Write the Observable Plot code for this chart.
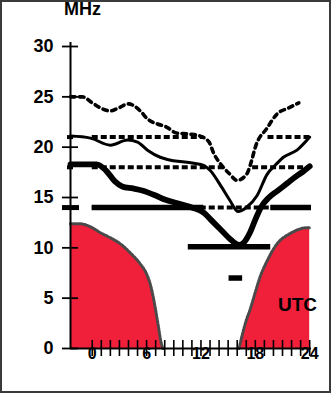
<!DOCTYPE html>
<html><head><meta charset="utf-8">
<script src="https://cdn.jsdelivr.net/npm/d3@7"></script>
<script src="https://cdn.jsdelivr.net/npm/@observablehq/plot@0.6"></script>
<style>
html,body{margin:0;padding:0;background:#fff;}
#chart{position:relative;width:332px;height:395px;}
#frame{position:absolute;left:0;top:0;width:331px;height:393px;border:2px solid #3a3a3a;box-sizing:border-box;pointer-events:none;}
</style></head><body>
<div id="chart"><div id="frame"></div></div>
<script>
// axis domain
const axisStart = -2.4;
const axisEnd = 24.2;
const yTicks = [0, 5, 10, 15, 20, 25, 30];
const hourTicks = [0,1,2,3,4,5,6,7,8,9,10,11,12,13,14,15,16,17,18,19,20,21,22,23,24];
const hourLabels = [0, 6, 12, 18, 24];

// [hour UTC, MHz]
const upperDecile = [[-2.4,25.0],[-1.1,25.0],[0,24.4],[0.9,23.9],[2.0,23.6],[2.9,23.9],[4.0,24.3],[5.3,23.6],[6.1,22.8],[7.2,22.3],[8.2,22.0],[9.3,21.4],[10.8,21.3],[11.9,21.1],[12.9,20.5],[13.4,19.4],[14.1,18.4],[15.1,17.4],[16.0,16.7],[17.1,17.4],[17.6,18.7],[18.0,20.0],[19.3,21.9],[20.4,23.3],[21.7,23.9],[22.8,24.4]];
const median = [[-2.4,21.1],[-0.2,20.9],[2.0,20.2],[3.9,20.7],[5.0,20.5],[6.1,19.7],[7.5,19.0],[8.2,18.8],[11.2,18.4],[12.3,18.2],[13.0,17.7],[14.3,16.0],[15.2,14.7],[16.1,13.6],[17.0,14.0],[18.2,15.2],[19.3,17.3],[20.3,18.3],[21.1,19.0],[22.6,19.7],[24.0,21.0]];
const lowerDecile = [[-2.4,18.3],[0.5,18.3],[1.5,17.7],[2.5,16.6],[3.3,16.1],[4.5,15.9],[5.5,15.7],[7.0,15.2],[8.0,14.8],[9.5,14.4],[11.0,14.0],[12.3,13.5],[13.3,12.6],[14.3,11.7],[15.3,10.8],[16.2,10.3],[16.7,10.5],[17.4,11.5],[18.0,12.8],[18.6,14.0],[19.5,15.0],[20.5,15.7],[21.5,16.4],[22.5,17.1],[23.3,17.6],[24.0,18.1]];
const lufMorning = [[-2.4,12.4],[-1.5,12.4],[0,12.0],[0.9,11.5],[2.0,11.0],[3.1,10.4],[4.2,9.5],[5.3,8.4],[6.0,7.4],[6.4,6.4],[6.8,4.8],[7.0,3.8],[7.3,2.2],[7.55,0.8],[7.8,0]];
const lufEvening = [[16.2,0],[16.6,1.5],[17.0,2.8],[17.4,3.8],[18.0,5.6],[18.5,7.05],[19.3,8.7],[20.4,10.4],[21.8,11.4],[22.7,11.8],[23.7,12.0],[24.0,12.0]];

// bands: dashed = open on upper decile, thick = open on lower decile
const dashedBands = [{mhz:21,from:0,to:12.3},{mhz:21,from:19.4,to:24},{mhz:18,from:0,to:14.5},{mhz:18,from:17.7,to:24},{mhz:14,from:0,to:24}];
const thickBands = [{mhz:14,from:0,to:12.3},{mhz:14,from:19.7,to:24.2},{mhz:10.1,from:10.6,to:19.7},{mhz:7,from:15.1,to:16.6}];
const bandMarks = [21, 18];
const mainBand = [14];

const hx = d => d[0], my = d => d[1];
const red = "#f0203b";

const chart = Plot.plot({
  width: 332, height: 395,
  marginLeft: 70, marginRight: 21, marginTop: 46, marginBottom: 47,
  x: {domain: [axisStart, axisEnd], axis: null},
  y: {domain: [0, 30], axis: null},
  style: {fontFamily: "'Liberation Sans', Arial, sans-serif", background: "transparent", color: "black"},
  marks: [
    Plot.areaY(lufMorning, {x: hx, y: my, fill: red, curve: "monotone-x"}),
    Plot.areaY(lufEvening, {x: hx, y: my, fill: red, curve: "monotone-x"}),
    Plot.line(lufMorning, {x: hx, y: my, stroke: "#4a4a4a", strokeWidth: 3, strokeDasharray: "2,1.5", curve: "monotone-x"}),
    Plot.line(lufEvening, {x: hx, y: my, stroke: "#4a4a4a", strokeWidth: 3, strokeDasharray: "2,1.5", curve: "monotone-x"}),
    Plot.ruleY(dashedBands, {y: "mhz", x1: "from", x2: "to", stroke: "black", strokeWidth: 4, strokeDasharray: "6,3"}),
    Plot.ruleY(thickBands, {y: "mhz", x1: "from", x2: "to", stroke: "black", strokeWidth: 5.5}),
    Plot.line(upperDecile, {x: hx, y: my, stroke: "black", strokeWidth: 3.6, strokeDasharray: "4.5,4.5", curve: "monotone-x"}),
    Plot.line(median, {x: hx, y: my, stroke: "black", strokeWidth: 3, curve: "monotone-x"}),
    Plot.line(lowerDecile, {x: hx, y: my, stroke: "black", strokeWidth: 5.8, curve: "monotone-x"}),
    // axes
    Plot.ruleX([axisStart], {y1: 30, y2: 0, insetTop: -4, stroke: "black", strokeWidth: 2}),
    Plot.ruleY([0], {x1: axisStart, x2: axisEnd, stroke: "black", strokeWidth: 2}),
    Plot.ruleY(yTicks, {x1: axisStart, x2: axisStart, insetLeft: -8, insetRight: -8, stroke: "black", strokeWidth: 1.8}),
    Plot.ruleX(hourTicks, {y1: 0, y2: 0, insetTop: -8, insetBottom: -8, stroke: "black", strokeWidth: 1.6}),
    Plot.ruleY(mainBand, {x1: axisStart, x2: axisStart, insetLeft: -8, insetRight: -9, stroke: "black", strokeWidth: 5}),
    Plot.ruleY(bandMarks, {x1: axisStart, x2: axisStart, insetLeft: -3, insetRight: -3, stroke: "black", strokeWidth: 4}),
    Plot.axisY({ticks: yTicks, tickSize: 0, tickPadding: 17, fontSize: 18, fontWeight: "bold", label: null}),
    Plot.text(hourLabels, {x: d => d, frameAnchor: "bottom", dy: 5, lineAnchor: "middle", fontSize: 16, fontWeight: "bold", text: d => String(d)}),
    Plot.text(["MHz"], {frameAnchor: "top-left", dx: 12, dy: -37, lineAnchor: "middle", textAnchor: "middle", fontSize: 18, fontWeight: "bold"}),
    Plot.text(["UTC"], {frameAnchor: "bottom-right", dx: -14, dy: -44, lineAnchor: "middle", textAnchor: "middle", fontSize: 19, fontWeight: "bold"})
  ]
});
document.getElementById("chart").insertBefore(chart, document.getElementById("frame"));
</script>
</body></html>
